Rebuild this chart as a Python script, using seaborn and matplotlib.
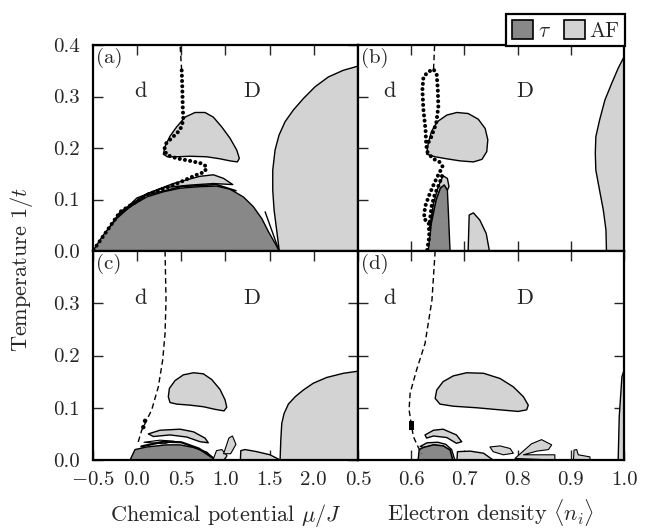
import numpy as np
import pandas as pd
import matplotlib
matplotlib.use('Agg')
import matplotlib.pyplot as plt
import seaborn as sns
from matplotlib.patches import Patch

sns.set_style('ticks')
plt.rcParams.update({
    'font.family': 'serif', 'font.serif': ['cmr10', 'DejaVu Serif'],
    'mathtext.fontset': 'cm', 'axes.unicode_minus': False,
    'axes.formatter.use_mathtext': True,
})

TAU = '#888888'
AF = '#d3d3d3'

# ---------------- panel (a): T vs mu ----------------
a_tau_x = [-0.5, -0.38, -0.229, -0.078, 0.111, 0.299, 0.488, 0.714, 0.903, 1.053, 1.204, 1.317, 1.412, 1.486, 1.562, 1.61]
a_tau_y = [0.0, 0.031, 0.063, 0.086, 0.105, 0.115, 0.122, 0.125, 0.126, 0.120, 0.105, 0.086, 0.063, 0.038, 0.015, 0.0]
a_cres_x = [-0.42, -0.19, 0.11, 0.41, 0.71, 0.865, 0.98, 1.084, 0.865, 0.6, 0.3, 0.0, -0.2, -0.42]
a_cres_y = [0.02, 0.076, 0.111, 0.131, 0.145, 0.148, 0.141, 0.129, 0.131, 0.128, 0.123, 0.103, 0.07, 0.018]
a_blob_x = [0.299, 0.318, 0.374, 0.449, 0.544, 0.657, 0.770, 0.864, 0.959, 1.053, 1.129, 1.158, 1.136, 1.053, 0.94, 0.789, 0.60, 0.45, 0.344]
a_blob_y = [0.188, 0.203, 0.223, 0.241, 0.260, 0.269, 0.269, 0.260, 0.241, 0.219, 0.196, 0.180, 0.173, 0.175, 0.179, 0.183, 0.184, 0.183, 0.183]
a_big_x = [1.61, 1.58, 1.551, 1.536, 1.536, 1.562, 1.607, 1.675, 1.77, 1.882, 2.015, 2.165, 2.335, 2.5, 2.5]
a_big_y = [0.0, 0.041, 0.080, 0.118, 0.157, 0.196, 0.225, 0.251, 0.274, 0.296, 0.319, 0.338, 0.351, 0.359, 0.0]
a_edge_x = [-0.2, 0.1, 0.5, 0.9, 1.12]
a_edge_y = [0.071, 0.108, 0.125, 0.129, 0.117]
a_sliv_x = [1.45, 1.6]
a_sliv_y = [0.076, 0.004]
a_dot_x = [-0.49, -0.19, 0.111, 0.413, 0.677, 0.77, 0.786, 0.733, 0.60, 0.45, 0.344, 0.307, 0.33, 0.41, 0.488, 0.525, 0.518, 0.513, 0.506]
a_dot_y = [0.002, 0.076, 0.109, 0.128, 0.148, 0.154, 0.164, 0.170, 0.175, 0.18, 0.186, 0.196, 0.209, 0.222, 0.235, 0.254, 0.28, 0.319, 0.351]
a_dash_x = [0.506, 0.497, 0.488]
a_dash_y = [0.351, 0.375, 0.40]

# ---------------- panel (b): T vs n ----------------
b_tau_x = [0.632, 0.638, 0.647, 0.655, 0.662, 0.668, 0.670, 0.673]
b_tau_y = [0.0, 0.054, 0.099, 0.122, 0.128, 0.118, 0.073, 0.0]
b_rim_x = [0.634, 0.642, 0.651, 0.660, 0.668, 0.671, 0.668, 0.662, 0.655, 0.647, 0.638]
b_rim_y = [0.041, 0.093, 0.125, 0.146, 0.141, 0.125, 0.118, 0.128, 0.122, 0.099, 0.054]
b_blob_x = [0.629, 0.632, 0.638, 0.649, 0.667, 0.686, 0.707, 0.726, 0.739, 0.744, 0.742, 0.733, 0.717, 0.692, 0.667, 0.645]
b_blob_y = [0.188, 0.209, 0.232, 0.251, 0.264, 0.269, 0.267, 0.256, 0.238, 0.216, 0.193, 0.178, 0.173, 0.175, 0.179, 0.183]
b_tongue_x = [0.707, 0.709, 0.717, 0.729, 0.741, 0.747]
b_tongue_y = [0.0, 0.070, 0.074, 0.060, 0.034, 0.0]
b_edge_x = [0.967, 0.966, 0.961, 0.954, 0.947, 0.946, 0.947, 0.954, 0.964, 0.977, 0.989, 1.0, 1.0]
b_edge_y = [0.0, 0.041, 0.080, 0.118, 0.157, 0.190, 0.222, 0.254, 0.293, 0.326, 0.355, 0.377, 0.0]
b_dot_x = [0.630, 0.634, 0.633, 0.624, 0.626, 0.634, 0.643, 0.651, 0.659, 0.653, 0.640, 0.630, 0.628, 0.627, 0.623, 0.621, 0.623, 0.632, 0.642, 0.648, 0.650, 0.651, 0.647, 0.638, 0.630]
b_dot_y = [0.002, 0.028, 0.054, 0.063, 0.086, 0.109, 0.131, 0.148, 0.164, 0.173, 0.180, 0.193, 0.209, 0.235, 0.274, 0.313, 0.338, 0.348, 0.353, 0.342, 0.313, 0.280, 0.248, 0.222, 0.206]
b_dot2_x = [0.635, 0.638, 0.644, 0.653, 0.660]
b_dot2_y = [0.057, 0.086, 0.109, 0.131, 0.152]
b_dash_x = [0.642, 0.643, 0.644]
b_dash_y = [0.353, 0.375, 0.40]

# ---------------- panel (c): T vs mu ----------------
c_tau_x = [-0.078, -0.022, 0.111, 0.337, 0.488, 0.639, 0.79, 0.884]
c_tau_y = [0.0, 0.020, 0.025, 0.029, 0.029, 0.024, 0.015, 0.0]
c_edge_x = [0.05, 0.3, 0.5, 0.7, 0.86]
c_edge_y = [0.026, 0.035, 0.034, 0.022, 0.004]
c_sliv_x = [0.129, 0.261, 0.488, 0.639, 0.770, 0.807, 0.714, 0.563, 0.375, 0.186]
c_sliv_y = [0.050, 0.057, 0.059, 0.054, 0.042, 0.033, 0.035, 0.044, 0.048, 0.045]
c_bit_x = [0.08, 0.26, 0.42, 0.30]
c_bit_y = [0.034, 0.038, 0.036, 0.031]
c_pet1_x = [0.86, 0.90, 0.96, 1.02, 0.98]
c_pet1_y = [0.0, 0.018, 0.020, 0.008, 0.0]
c_pet2_x = [0.98, 1.04, 1.08, 1.12, 1.06]
c_pet2_y = [0.012, 0.042, 0.046, 0.030, 0.012]
c_low_x = [1.17, 1.175, 1.224, 1.355, 1.505, 1.62]
c_low_y = [0.0, 0.018, 0.020, 0.016, 0.010, 0.0]
c_blob_x = [0.355, 0.367, 0.431, 0.525, 0.639, 0.751, 0.846, 0.940, 0.997, 1.016, 0.985, 0.883, 0.751, 0.601, 0.450, 0.374]
c_blob_y = [0.121, 0.137, 0.152, 0.163, 0.167, 0.165, 0.154, 0.135, 0.115, 0.101, 0.094, 0.097, 0.102, 0.105, 0.107, 0.110]
c_big_x = [1.619, 1.627, 1.638, 1.664, 1.713, 1.789, 1.882, 1.995, 2.146, 2.335, 2.5, 2.5]
c_big_y = [0.0, 0.038, 0.070, 0.089, 0.107, 0.121, 0.134, 0.147, 0.158, 0.166, 0.170, 0.0]
c_dash_x = [0.318, 0.329, 0.318, 0.291, 0.242, 0.167, 0.092, 0.054, 0.005]
c_dash_y = [0.40, 0.306, 0.242, 0.191, 0.140, 0.096, 0.070, 0.057, 0.029]
c_pts_x = [0.072, 0.092]
c_pts_y = [0.063, 0.075]

# ---------------- panel (d): T vs n ----------------
d_tau_x = [0.613, 0.615, 0.623, 0.642, 0.660, 0.673, 0.678]
d_tau_y = [0.0, 0.020, 0.024, 0.029, 0.027, 0.019, 0.0]
d_rim_x = [0.617, 0.630, 0.650, 0.665, 0.676, 0.682, 0.678, 0.673, 0.660, 0.642, 0.623]
d_rim_y = [0.026, 0.033, 0.034, 0.030, 0.020, 0.0, 0.0, 0.019, 0.027, 0.029, 0.024]
d_sliv_x = [0.626, 0.642, 0.660, 0.685, 0.695, 0.685, 0.667, 0.642, 0.629]
d_sliv_y = [0.048, 0.057, 0.059, 0.048, 0.035, 0.032, 0.043, 0.046, 0.042]
d_low_x = [0.686, 0.687, 0.711, 0.736, 0.754]
d_low_y = [0.0, 0.016, 0.017, 0.013, 0.0]
d_pet1_x = [0.748, 0.767, 0.786, 0.792, 0.773, 0.754]
d_pet1_y = [0.025, 0.027, 0.022, 0.013, 0.010, 0.016]
d_fan_x = [0.795, 0.826, 0.845, 0.864, 0.858, 0.836, 0.811, 0.870, 0.870]
d_fan_y = [0.003, 0.031, 0.039, 0.029, 0.020, 0.017, 0.010, 0.010, 0.0]
d_bump_x = [0.905, 0.906, 0.911, 0.914, 0.936, 0.936]
d_bump_y = [0.0, 0.019, 0.020, 0.010, 0.006, 0.0]
d_edge_x = [0.989, 0.991, 0.996, 1.0, 1.0]
d_edge_y = [0.0, 0.083, 0.159, 0.172, 0.0]
d_blob_x = [0.645, 0.648, 0.660, 0.679, 0.704, 0.736, 0.767, 0.792, 0.811, 0.820, 0.817, 0.801, 0.767, 0.723, 0.679, 0.654]
d_blob_y = [0.118, 0.134, 0.150, 0.161, 0.167, 0.166, 0.156, 0.140, 0.121, 0.105, 0.096, 0.093, 0.096, 0.100, 0.103, 0.107]
d_dash_x = [0.645, 0.639, 0.626, 0.610, 0.598, 0.596, 0.600, 0.604, 0.613, 0.62]
d_dash_y = [0.40, 0.306, 0.223, 0.172, 0.128, 0.096, 0.070, 0.045, 0.025, 0.012]
d_pts_x = [0.600, 0.600]
d_pts_y = [0.062, 0.070]

mu_ticks = [-0.5, 0.0, 0.5, 1.0, 1.5, 2.0]
mu_labels = ['$-0.5$', '0.0', '0.5', '1.0', '1.5', '2.0']
n_ticks = [0.5, 0.6, 0.7, 0.8, 0.9, 1.0]
n_labels = ['0.5', '0.6', '0.7', '0.8', '0.9', '1.0']
T_ticks = [0.0, 0.1, 0.2, 0.3, 0.4]
T_labels = ['0.0', '0.1', '0.2', '0.3', '0.4']

fig = plt.figure(figsize=(6.47, 5.29), dpi=100)
L, W1, W2 = 0.1433, 0.410, 0.4112
B1, H1 = 0.5255, 0.3894
B2, H2 = 0.1304, 0.3951
ax_a = fig.add_axes([L, B1, W1, H1])
ax_b = fig.add_axes([L + W1, B1, W2, H1])
ax_c = fig.add_axes([L, B2, W1, H2])
ax_d = fig.add_axes([L + W1, B2, W2, H2])


def region(ax, xs, ys, color, lw=1.0):
    ax.fill(xs, ys, facecolor=color, edgecolor='black', linewidth=lw, zorder=2,
            joinstyle='round')


def line(ax, xs, ys, **kw):
    df = pd.DataFrame({'x': xs, 'y': ys})
    sns.lineplot(data=df, x='x', y='y', sort=False, estimator=None, ax=ax,
                 color='black', legend=False, **kw)


def dots(ax, xs, ys):
    ax.plot(xs, ys, color='black', linestyle=(0, (0.01, 1.3)), linewidth=2.9,
            dash_capstyle='round', zorder=4)


# (a)
region(ax_a, a_cres_x, a_cres_y, AF)
region(ax_a, a_tau_x, a_tau_y, TAU)
region(ax_a, a_blob_x, a_blob_y, AF)
region(ax_a, a_big_x, a_big_y, AF)
line(ax_a, a_edge_x, a_edge_y, lw=1.2, zorder=3)
line(ax_a, a_sliv_x, a_sliv_y, lw=1.0, zorder=3)
dots(ax_a, a_dot_x, a_dot_y)
line(ax_a, a_dash_x, a_dash_y, lw=1.0, linestyle=(0, (4, 2.5)), zorder=3)

# (b)
region(ax_b, b_rim_x, b_rim_y, AF)
region(ax_b, b_tau_x, b_tau_y, TAU)
region(ax_b, b_blob_x, b_blob_y, AF)
region(ax_b, b_tongue_x, b_tongue_y, AF)
region(ax_b, b_edge_x, b_edge_y, AF)
dots(ax_b, b_dot_x, b_dot_y)
dots(ax_b, b_dot2_x, b_dot2_y)
line(ax_b, b_dash_x, b_dash_y, lw=1.0, linestyle=(0, (4, 2.5)), zorder=3)

# (c)
region(ax_c, c_sliv_x, c_sliv_y, AF)
region(ax_c, c_bit_x, c_bit_y, AF, lw=0.8)
region(ax_c, c_tau_x, c_tau_y, TAU)
line(ax_c, c_edge_x, c_edge_y, lw=1.6, zorder=3)
region(ax_c, c_pet1_x, c_pet1_y, AF, lw=0.8)
region(ax_c, c_pet2_x, c_pet2_y, AF, lw=0.8)
region(ax_c, c_low_x, c_low_y, AF)
region(ax_c, c_blob_x, c_blob_y, AF)
region(ax_c, c_big_x, c_big_y, AF)
line(ax_c, c_dash_x, c_dash_y, lw=1.0, linestyle=(0, (4, 2.5)), zorder=3)
sns.scatterplot(x=c_pts_x, y=c_pts_y, ax=ax_c, color='black', s=10, zorder=4, edgecolor='none')

# (d)
region(ax_d, d_rim_x, d_rim_y, AF)
region(ax_d, d_tau_x, d_tau_y, TAU)
region(ax_d, d_sliv_x, d_sliv_y, AF)
region(ax_d, d_low_x, d_low_y, AF)
region(ax_d, d_pet1_x, d_pet1_y, AF, lw=0.8)
region(ax_d, d_fan_x, d_fan_y, AF, lw=0.8)
region(ax_d, d_bump_x, d_bump_y, AF, lw=0.8)
region(ax_d, d_edge_x, d_edge_y, AF)
region(ax_d, d_blob_x, d_blob_y, AF)
line(ax_d, d_dash_x, d_dash_y, lw=1.0, linestyle=(0, (4, 2.5)), zorder=3)
sns.scatterplot(x=d_pts_x, y=d_pts_y, ax=ax_d, color='black', s=14, marker='s', zorder=4, edgecolor='none')

for ax, xl in [(ax_a, (-0.5, 2.5)), (ax_c, (-0.5, 2.5)), (ax_b, (0.5, 1.0)), (ax_d, (0.5, 1.0))]:
    ax.set_xlim(*xl)
    ax.set_ylim(0, 0.4)
    ax.set_xlabel('')
    ax.set_ylabel('')
    ax.tick_params(direction='in', top=True, right=True, length=7, width=1,
                   labelsize=15)
    ax.tick_params(axis='x', pad=8)
    ax.tick_params(axis='y', pad=9)
    for s in ax.spines.values():
        s.set_linewidth(1.6)
        s.set_color('black')
        s.set_zorder(6)

ax_a.set_xticks(mu_ticks[1:])
ax_a.set_xticklabels([])
ax_a.set_yticks(T_ticks)
ax_a.set_yticklabels(T_labels)
ax_c.set_xticks(mu_ticks)
ax_c.set_xticklabels(mu_labels)
ax_c.set_yticks(T_ticks[:4])
ax_c.set_yticklabels(T_labels[:4])
ax_b.set_xticks(n_ticks[1:5])
ax_b.set_xticklabels([])
ax_b.set_yticks(T_ticks[1:4])
ax_b.set_yticklabels([])
ax_d.set_xticks(n_ticks)
ax_d.set_xticklabels(n_labels)
ax_d.set_yticks(T_ticks[1:4])
ax_d.set_yticklabels([])

for ax, tag, xd, xD in [(ax_a, '(a)', 0.036, 1.30), (ax_b, '(b)', 0.56, 0.814),
                        (ax_c, '(c)', 0.036, 1.30), (ax_d, '(d)', 0.56, 0.814)]:
    ax.text(0.012, 0.985, tag, transform=ax.transAxes, ha='left', va='top', fontsize=15, zorder=7)
    ax.text(xd, 0.31, 'd', ha='center', va='center', fontsize=16, zorder=7)
    ax.text(xD, 0.31, 'D', ha='center', va='center', fontsize=16, zorder=7)

fig.text(0.034, 0.49, 'Temperature $1/t$', rotation=90, ha='center', va='center', fontsize=16)
fig.text(L + W1 / 2, 0.016, r'Chemical potential $\mu/J$', ha='center', va='baseline', fontsize=16)
fig.text(L + W1 + W2 / 2, 0.016, r'Electron density $\langle n_i\rangle$', ha='center', va='baseline', fontsize=16)

handles = [Patch(facecolor=TAU, edgecolor='black', linewidth=1.2),
           Patch(facecolor=AF, edgecolor='black', linewidth=1.2)]
leg = fig.legend(handles, [r'$\tau$', 'AF'], loc='lower right', ncol=2,
                 bbox_to_anchor=(L + W1 + W2 + 0.0015, B1 + H1 - 0.002), frameon=True,
                 fancybox=False, fontsize=15.5, handlelength=1.0, handleheight=1.0,
                 handletextpad=0.2, columnspacing=0.6, borderpad=0.25,
                 borderaxespad=0.0)
leg.get_frame().set_edgecolor('black')
leg.get_frame().set_linewidth(1.6)
leg.get_frame().set_alpha(1)

fig.savefig('out.png', dpi=100)
